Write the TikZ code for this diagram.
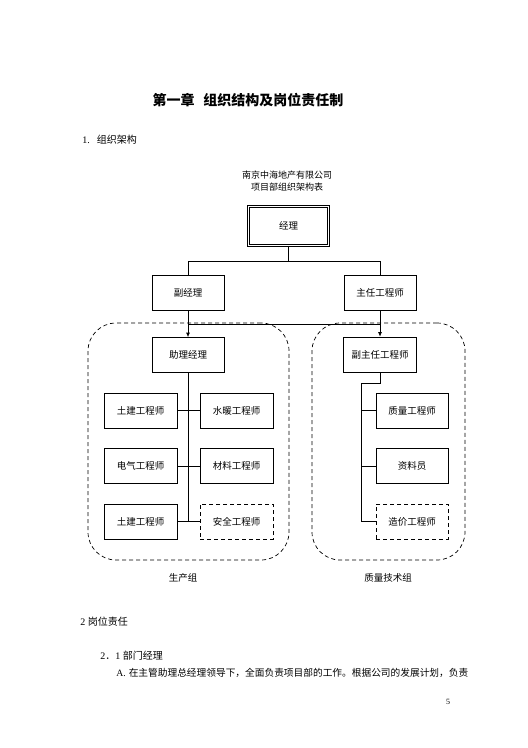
\documentclass[tikz,border=0pt]{standalone}
\usepackage{fontspec}
\setmainfont{Liberation Serif}
\newfontfamily\cjk{Noto Sans CJK SC}
\usetikzlibrary{arrows.meta}

\begin{document}
\begin{tikzpicture}[x=1pt, y=-1pt, line width=0.7pt, every node/.style={font=\cjk\fontsize{9.5}{11}\selectfont, inner sep=0pt}, >={Latex[length=4.5pt, width=4pt]},
	post/.style={draw, minimum width=72pt, minimum height=35pt},
	extra/.style={post, dash pattern=on 4pt off 3pt},
	group/.style={draw, dash pattern=on 4pt off 3pt, rounded corners=28pt}]
	\useasboundingbox (0,0) rectangle (528,748);
	\node[font=\cjk\bfseries\fontsize{14}{16}\selectfont] (title) at (248,100) {第一章\hspace{9pt}组织结构及岗位责任制};
	\node[anchor=west, font=\fontsize{10}{12}\selectfont] (sec1) at (82,140) {1.\hspace{7pt}{\cjk 组织架构}};
	\node[align=center, font=\cjk\fontsize{9}{12}\selectfont] (company) at (287,181) {南京中海地产有限公司\\项目部组织架构表};
	\node[post, double, double distance=1.5pt, line width=0.9pt, minimum width=80pt, minimum height=39pt] (jingli) at (288.5,226) {经理};
	\node[post] (fujingli) at (188,292.5) {副经理};
	\node[post] (zhuren) at (380,292.5) {主任工程师};
	\node[group, minimum width=201pt, minimum height=237pt] (shengchan) at (188.5,441.5) {};
	\node[group, minimum width=153pt, minimum height=237pt] (zhiliangzu) at (388.5,441.5) {};
	\node[post] (zhuli) at (188,355) {助理经理};
	\node[post, minimum width=73pt] (fuzhuren) at (380,354.5) {副主任工程师};
	\node[post, minimum width=73pt] (tujian) at (140.5,410.5) {土建工程师};
	\node[post, minimum width=73pt] (shuinuan) at (236.5,410.5) {水暖工程师};
	\node[post, minimum width=73pt] (dianqi) at (140.5,466) {电气工程师};
	\node[post, minimum width=73pt] (cailiao) at (236.5,466) {材料工程师};
	\node[post, minimum width=73pt] (tujianb) at (140.5,521.5) {土建工程师};
	\node[extra, minimum width=73pt] (anquan) at (236.5,521.5) {安全工程师};
	\node[post] (zhiliang) at (412,410.5) {质量工程师};
	\node[post] (ziliao) at (412,466) {资料员};
	\node[extra] (zaojia) at (412,521.5) {造价工程师};
	\node (shengchanlabel) at (183,578) {生产组};
	\node (zhiliangzulabel) at (388,578) {质量技术组};
	\coordinate (cross) at (188,324);
	\coordinate (qtop) at (361,383);
	\draw (jingli.south) -- ++(0,15) coordinate (split) -| (fujingli.north);
	\draw (split) -| (zhuren.north);
	\draw[->] (fujingli) -- (zhuli);
	\draw[->] (zhuren) -- (fuzhuren);
	\draw (cross) -- (cross -| zhuren.south);
	\draw (zhuli.south) -- (zhuli.south |- tujianb.east);
	\draw (tujian.east) -- (shuinuan.west);
	\draw (dianqi.east) -- (cailiao.west);
	\draw (tujianb.east) -- (anquan.west);
	\draw (fuzhuren.south) |- (qtop) -- (qtop |- zaojia.west) -- (zaojia.west);
	\draw (zhiliang.west) -- (zhiliang.west -| qtop);
	\draw (ziliao.west) -- (ziliao.west -| qtop);
	\node[anchor=west, font=\fontsize{10}{12}\selectfont] (sec2) at (80,622) {2 {\cjk 岗位责任}};
	\node[anchor=west, font=\fontsize{10}{12}\selectfont] (sec21) at (100,656) {2{\cjk ．}1 {\cjk 部门经理}};
	\node[anchor=west, font=\fontsize{9.7}{12}\selectfont] (itema) at (116,673) {A.\hspace{3pt}{\cjk 在主管助理总经理领导下，全面负责项目部的工作。根据公司的发展计划，负责}};
	\node[font=\fontsize{8}{10}\selectfont] (pagenum) at (448,702) {5};
\end{tikzpicture}
\end{document}
